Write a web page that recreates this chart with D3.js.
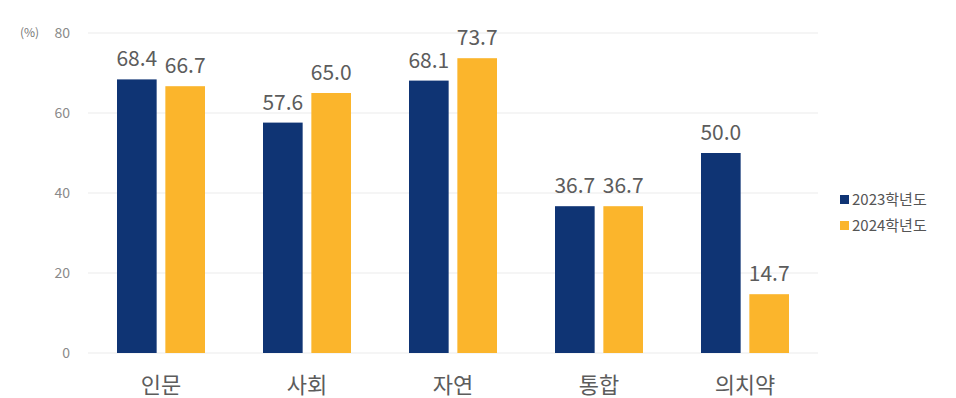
<!DOCTYPE html>
<html>
<head>
<meta charset="utf-8">
<style>
  body { margin: 0; background: #fff; }
  svg { font-family: "Noto Sans CJK KR", "Noto Sans", sans-serif; }
</style>
</head>
<body>
<script src="https://d3js.org/d3.v7.min.js"></script>
<script>
const categories = ["인문", "사회", "자연", "통합", "의치약"];
const series = ["2023학년도", "2024학년도"];
const values2023 = [68.4, 57.6, 68.1, 36.7, 50.0];
const values2024 = [66.7, 65.0, 73.7, 36.7, 14.7];
const yTicks = [0, 20, 40, 60, 80];
const colors = ["#0f3474", "#fbb52c"];

const width = 956, height = 398;
const plotLeft = 88, plotRight = 818, plotTop = 33, plotBottom = 353;

const svg = d3.select("body").append("svg")
  .attr("width", width).attr("height", height);

const x = d3.scaleBand().domain(categories).range([plotLeft, plotRight]).paddingInner(0).paddingOuter(0);
const xs = d3.scaleBand().domain(series).range([x.bandwidth() / 2 - 44, x.bandwidth() / 2 + 44]).paddingInner(0.18);
const y = d3.scaleLinear().domain([0, 80]).range([plotBottom, plotTop]);

// gridlines
svg.append("g").selectAll("line").data(yTicks).join("line")
  .attr("x1", plotLeft).attr("x2", plotRight)
  .attr("y1", d => y(d)).attr("y2", d => y(d))
  .attr("stroke", "#ebebeb").attr("stroke-width", 1);

// y tick labels
svg.append("g").selectAll("text").data(yTicks).join("text")
  .attr("x", 70).attr("y", d => y(d))
  .attr("dy", "0.35em")
  .attr("text-anchor", "end")
  .attr("fill", "#8a8a8a").attr("font-size", 14)
  .text(d => d);

svg.append("text").attr("x", 20).attr("y", y(80)).attr("dy", "0.35em")
  .attr("fill", "#777").attr("font-size", 12).text("(%)");

const rows = categories.map((c, i) => ({ c, vals: [values2023[i], values2024[i]] }));

const g = svg.append("g").selectAll("g").data(rows).join("g")
  .attr("transform", d => `translate(${x(d.c)},0)`);

const bars = g.selectAll("g").data(d => d.vals.map((v, j) => ({ s: series[j], v, j }))).join("g");

bars.append("rect")
  .attr("x", d => xs(d.s)).attr("width", xs.bandwidth())
  .attr("y", d => y(d.v)).attr("height", d => y(0) - y(d.v))
  .attr("fill", d => colors[d.j]);

bars.append("text")
  .attr("x", d => xs(d.s) + xs.bandwidth() / 2)
  .attr("y", d => y(d.v) - 13)
  .attr("text-anchor", "middle")
  .attr("fill", "#5c5c5c").attr("font-size", 21)
  .text(d => d.v.toFixed(1));

// x labels
svg.append("g").selectAll("text").data(categories).join("text")
  .attr("x", d => x(d) + x.bandwidth() / 2)
  .attr("y", 393)
  .attr("text-anchor", "middle")
  .attr("fill", "#5c5c5c").attr("font-size", 22)
  .text(d => d);

// legend
const lg = svg.append("g").selectAll("g").data(series).join("g")
  .attr("transform", (d, i) => `translate(840,${200 + i * 26})`);
lg.append("rect").attr("x", 0).attr("y", -5).attr("width", 9).attr("height", 9)
  .attr("fill", (d, i) => colors[i]);
lg.append("text").attr("x", 12).attr("y", 0).attr("dy", "0.35em")
  .attr("fill", "#555").attr("font-size", 15).text(d => d);
</script>
</body>
</html>
